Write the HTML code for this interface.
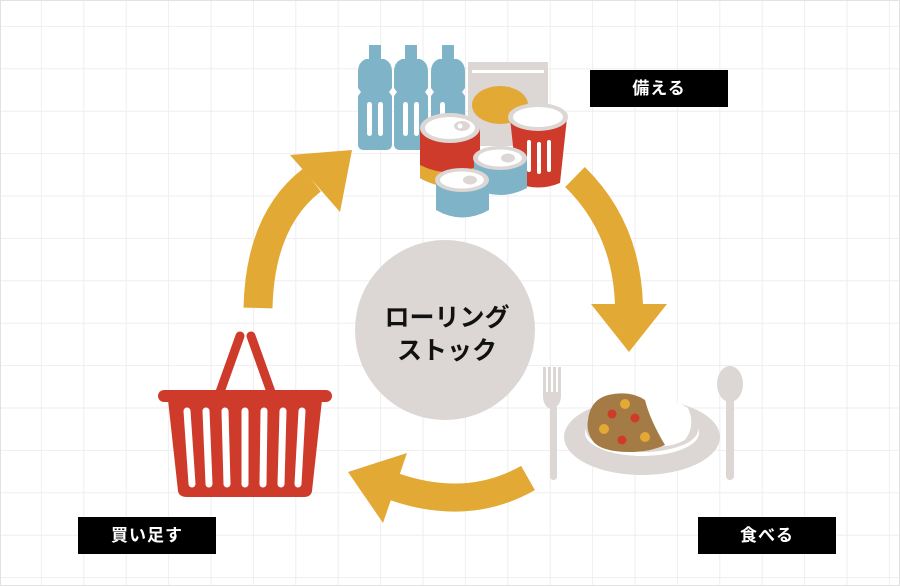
<!DOCTYPE html>
<html><head><meta charset="utf-8"><style>
html,body{margin:0;padding:0;width:900px;height:586px;overflow:hidden;background:#fff}
.lab{position:absolute;background:#000;color:#fff;font:bold 17px "Liberation Sans","Noto Sans CJK JP",sans-serif;text-align:center;width:138px;height:37px;line-height:37px;letter-spacing:1px}
</style></head><body>
<svg width="900" height="586" style="position:absolute;left:0;top:0">
<defs>
<pattern id="g" width="42.4" height="42.4" patternUnits="userSpaceOnUse" x="-0.5" y="-15.5">
<path d="M42.4 0V42.4M0 42.4H42.4" stroke="#eeeeee" stroke-width="2" fill="none"/>
</pattern>
</defs>
<rect width="900" height="586" fill="url(#g)"/>
<rect x="0.5" y="0.5" width="899" height="585" fill="none" stroke="#e2e2e2"/>
<g fill="#e3a935" stroke="none">
<path d="M258,308 Q260,220 312,180" stroke="#e3a935" stroke-width="29" fill="none"/>
<polygon points="290,155 352,150 340,212"/>
<path d="M575,177 Q627,228 629,306" stroke="#e3a935" stroke-width="28" fill="none"/>
<polygon points="591,304 667,304 629,352"/>
<path d="M528,478 Q468,512 395,487" stroke="#e3a935" stroke-width="28" fill="none"/>
<polygon points="348,472 407,453 383,523"/>
</g>
<circle cx="445" cy="330" r="90" fill="#dcd6d4"/>
<text x="447" y="326" text-anchor="middle" font-family="Liberation Sans,Noto Sans CJK JP,sans-serif" font-weight="bold" font-size="25" fill="#111">ローリング</text>
<text x="447" y="359" text-anchor="middle" font-family="Liberation Sans,Noto Sans CJK JP,sans-serif" font-weight="bold" font-size="25" fill="#111">ストック</text>
<g fill="#7fb3c8">
<g id="b"><rect x="369" y="45" width="12" height="14"/><path d="M366,59 H384 Q392,62 392,72 V88 L389,92 L392,96 V144 Q392,150 386,150 H364 Q358,150 358,144 V96 L361,92 L358,88 V72 Q358,62 366,59 Z"/></g>
<use href="#b" x="36"/><use href="#b" x="73"/>
</g>
<g fill="#fff">
<rect x="367" y="102" width="5" height="34" rx="2.5"/><rect x="378" y="102" width="5" height="34" rx="2.5"/>
<rect x="403" y="102" width="5" height="34" rx="2.5"/><rect x="414" y="102" width="5" height="34" rx="2.5"/>
<rect x="440" y="102" width="5" height="34" rx="2.5"/>
</g>
<rect x="468" y="62" width="80" height="84" fill="#dcd6d4"/>
<rect x="472" y="70" width="72" height="3" fill="#fff"/>
<ellipse cx="500" cy="105" rx="28" ry="19" fill="#e3a935"/>
<path d="M510,118 L517,183 Q538,192 560,183 L567,118 Z" fill="#cf3b2b"/>
<ellipse cx="538" cy="117" rx="30" ry="14" fill="#dcd6d4"/>
<ellipse cx="538" cy="117" rx="25" ry="10" fill="#fff"/>
<g fill="#fff"><rect x="527" y="140" width="4" height="32" rx="2"/><rect x="537" y="142" width="4" height="32" rx="2"/><rect x="547" y="140" width="4" height="32" rx="2"/></g>
<path d="M420,128 V178 Q450,195 480,178 V128 Z" fill="#cf3b2b"/>
<path d="M420,165 V178 Q450,195 480,178 V165 Q450,180 420,165Z" fill="#e3a935"/>
<ellipse cx="450" cy="128" rx="30" ry="15" fill="#dcd6d4"/>
<ellipse cx="450" cy="128" rx="25" ry="11" fill="#fff"/>
<ellipse cx="462" cy="126" rx="8" ry="5" fill="#dcd6d4"/><circle cx="460" cy="126" r="2.5" fill="#fff"/>
<path d="M474,158 V188 Q500,202 527,188 V158 Z" fill="#7fb3c8"/>
<ellipse cx="500" cy="158" rx="27" ry="12" fill="#dcd6d4"/>
<ellipse cx="500" cy="158" rx="22" ry="8.5" fill="#fff"/>
<ellipse cx="508" cy="158" rx="7" ry="4.5" fill="#dcd6d4"/>
<path d="M436,180 V210 Q462,225 489,210 V180 Z" fill="#7fb3c8"/>
<ellipse cx="462" cy="180" rx="27" ry="12" fill="#dcd6d4"/>
<ellipse cx="462" cy="180" rx="22" ry="8.5" fill="#fff"/>
<ellipse cx="470" cy="180" rx="7" ry="4.5" fill="#dcd6d4"/>
<g fill="#cf3b2b" stroke="#cf3b2b" stroke-linecap="round">
<line x1="240" y1="336" x2="220" y2="392" stroke-width="9"/>
<line x1="251" y1="336" x2="271" y2="392" stroke-width="9"/>
<line x1="164" y1="396" x2="326" y2="396" stroke-width="12"/>
<path d="M168,400 H322 L312,491 Q311,497 304,497 H187 Q179,497 178,491 Z" stroke="none"/>
</g>
<g stroke="#fff" stroke-width="7" stroke-linecap="round">
<line x1="187" y1="411" x2="192" y2="484"/><line x1="206" y1="411" x2="209" y2="484"/>
<line x1="225" y1="411" x2="227" y2="484"/><line x1="245" y1="411" x2="245" y2="484"/>
<line x1="264" y1="411" x2="263" y2="484"/><line x1="283" y1="411" x2="281" y2="484"/>
<line x1="302" y1="411" x2="298" y2="484"/>
</g>
<g fill="#dcd6d4">
<rect x="550" y="405" width="7" height="75" rx="3.5"/>
<path d="M543,367 h3 v25 h2 v-25 h3 v25 h2 v-25 h3 v25 h2 v-25 h3 v28 q0,12 -10,14 q-8,-2 -8,-14z"/>
<ellipse cx="730" cy="384" rx="13" ry="18"/>
<rect x="726" y="395" width="8" height="85" rx="4"/>
<ellipse cx="642" cy="437" rx="78" ry="38"/>
</g>
<ellipse cx="642" cy="433" rx="57" ry="23" fill="#fff"/>
<ellipse cx="642" cy="430" rx="56" ry="22" fill="#dcd6d4"/>
<path d="M640,398 Q670,396 688,408 Q696,425 685,440 Q670,448 655,446 Q650,420 640,398Z" fill="#fff"/>
<path d="M588,420 Q590,400 608,395 Q630,390 645,400 Q650,420 665,445 Q650,452 630,452 Q600,452 592,440 Q586,430 588,420Z" fill="#a57b45"/>
<circle cx="625" cy="404" r="5" fill="#e3a935"/><circle cx="604" cy="429" r="5" fill="#e3a935"/><circle cx="645" cy="437" r="5" fill="#e3a935"/>
<circle cx="612" cy="414" r="4.5" fill="#cf3b2b"/><circle cx="635" cy="418" r="4.5" fill="#cf3b2b"/><circle cx="622" cy="440" r="4.5" fill="#cf3b2b"/>
</svg>
<div class="lab" style="left:590px;top:70px">備える</div>
<div class="lab" style="left:698px;top:517px">食べる</div>
<div class="lab" style="left:78px;top:517px">買い足す</div>
</body></html>
